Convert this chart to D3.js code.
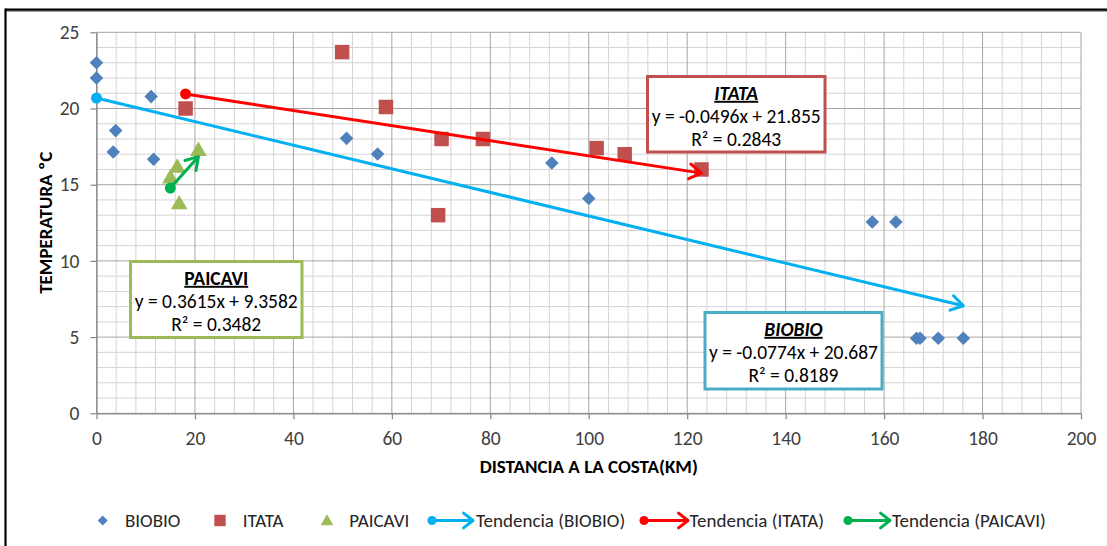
<!DOCTYPE html>
<html>
<head>
<meta charset="utf-8">
<script src="https://cdn.jsdelivr.net/npm/d3@7"></script>
<style>
  html, body { margin: 0; padding: 0; background: #ffffff; }
  svg { display: block; }
</style>
</head>
<body>
<svg id="chart" width="1107" height="546"></svg>
<script>
// Water temperature versus distance to the coast, three river basins
const biobioX = [0, 0, 3.4, 3.9, 11.1, 11.6, 50.8, 57.1, 92.5, 100, 157.6, 162.4, 166.6, 167.3, 171, 176.1];
const biobioY = [23, 22, 17.15, 18.55, 20.78, 16.67, 18.04, 17.01, 16.42, 14.1, 12.55, 12.55, 4.92, 4.92, 4.92, 4.92];

const itataX = [18.1, 49.9, 58.8, 69.4, 70.1, 78.5, 101.6, 107.3, 122.9];
const itataY = [20, 23.7, 20.1, 13, 18, 18, 17.4, 17, 16];

const paicaviX = [15, 16.4, 16.8, 20.7];
const paicaviY = [15.4, 16.1, 13.7, 17.2];

// Linear trend fits: slope, intercept, R²
const seriesNames = ["BIOBIO", "ITATA", "PAICAVI"];
const trendSlopes = [-0.0774, -0.0496, 0.3615];
const trendIntercepts = [20.687, 21.855, 9.3582];
const trendR2 = [0.8189, 0.2843, 0.3482];

const xTicks = [0, 20, 40, 60, 80, 100, 120, 140, 160, 180, 200];
const yTicks = [0, 5, 10, 15, 20, 25];

const FONT = "Carlito, Calibri, Lato, 'Open Sans', sans-serif";
const markerColors = ["#4F81BD", "#C0504D", "#9BBB59"];
const trendColors = ["#00B0F0", "#FF0000", "#00B050"];
const boxColors = ["#4BACC6", "#C0504D", "#9BBB59"];

const svg = d3.select("#chart");

// Outer frame
svg.append("line").attr("x1", 5).attr("x2", 1107).attr("y1", 11.3).attr("y2", 11.3)
  .attr("stroke", "#a0a0a0").attr("stroke-width", 1.2);
svg.append("line").attr("x1", 5.5).attr("x2", 1107).attr("y1", 9.7).attr("y2", 9.7)
  .attr("stroke", "#000").attr("stroke-width", 2.2);
svg.append("line").attr("x1", 5.5).attr("x2", 5.5).attr("y1", 8.6).attr("y2", 546)
  .attr("stroke", "#000").attr("stroke-width", 2.2);

const x = d3.scaleLinear().domain([0, 200]).range([96.5, 1081]);
const y = d3.scaleLinear().domain([0, 25]).range([413.3, 32.3]);

// Gridlines: minor then major
const grid = svg.append("g");
const xMinor = d3.range(0, 201, 4).filter(v => v % 20 !== 0);
const yMinor = d3.range(0, 26, 1).filter(v => v % 5 !== 0);
grid.selectAll(".vx").data(xMinor).join("line")
  .attr("x1", d => x(d)).attr("x2", d => x(d)).attr("y1", y(25)).attr("y2", y(0))
  .attr("stroke", "#d4d4d4").attr("stroke-width", 1);
grid.selectAll(".hy").data(yMinor).join("line")
  .attr("x1", x(0)).attr("x2", x(200)).attr("y1", d => y(d)).attr("y2", d => y(d))
  .attr("stroke", "#d4d4d4").attr("stroke-width", 1);
grid.selectAll(".vX").data(xTicks).join("line")
  .attr("x1", d => x(d)).attr("x2", d => x(d)).attr("y1", y(25)).attr("y2", y(0))
  .attr("stroke", "#a6a6a6").attr("stroke-width", 1);
grid.selectAll(".hY").data(yTicks).join("line")
  .attr("x1", x(0)).attr("x2", x(200)).attr("y1", d => y(d)).attr("y2", d => y(d))
  .attr("stroke", "#a6a6a6").attr("stroke-width", 1);

// Axes
const xAxis = svg.append("g").attr("transform", `translate(0,${y(0)})`)
  .call(d3.axisBottom(x).tickValues(xTicks).tickSize(6).tickSizeOuter(0).tickPadding(12));
const yAxis = svg.append("g").attr("transform", `translate(${x(0)},0)`)
  .call(d3.axisLeft(y).tickValues(yTicks).tickSize(6).tickSizeOuter(0).tickPadding(11));
[xAxis, yAxis].forEach(a => {
  a.select(".domain").attr("stroke", "#868686").attr("stroke-width", 1.2);
  a.selectAll(".tick line").attr("stroke", "#868686").attr("stroke-width", 1.2);
  a.selectAll("text").attr("font-family", FONT).attr("font-size", 19.5).attr("fill", "#404040");
});

// Axis titles
svg.append("text")
  .attr("x", (x(0) + x(200)) / 2).attr("y", 466).attr("dy", "0.35em")
  .attr("text-anchor", "middle").attr("font-family", FONT).attr("font-weight", "bold")
  .attr("font-size", 19).attr("fill", "#000")
  .text("DISTANCIA A LA COSTA(KM)");
svg.append("text")
  .attr("transform", `translate(45,${(y(0) + y(25)) / 2}) rotate(-90)`)
  .attr("dy", "0.35em").attr("text-anchor", "middle")
  .attr("font-family", FONT).attr("font-weight", "bold").attr("font-size", 19).attr("fill", "#000")
  .text("TEMPERATURA ºC");

// Marker shapes
const diamond = d3.symbol().type(d3.symbolSquare).size(92);
const square = d3.symbol().type(d3.symbolSquare).size(210);
const triangle = d3.symbol().type(d3.symbolTriangle).size(120);

const pts = svg.append("g");
pts.selectAll(".bio").data(biobioX.map((v, i) => [v, biobioY[i]])).join("path")
  .attr("d", diamond)
  .attr("transform", d => `translate(${x(d[0])},${y(d[1])}) rotate(45)`)
  .attr("fill", markerColors[0]);
pts.selectAll(".ita").data(itataX.map((v, i) => [v, itataY[i]])).join("path")
  .attr("d", square)
  .attr("transform", d => `translate(${x(d[0])},${y(d[1])})`)
  .attr("fill", markerColors[1]);
pts.selectAll(".pai").data(paicaviX.map((v, i) => [v, paicaviY[i]])).join("path")
  .attr("d", triangle)
  .attr("transform", d => `translate(${x(d[0])},${y(d[1])})`)
  .attr("fill", markerColors[2]);

// Arrow with round start marker and open chevron head
function drawArrow(g, x1, y1, x2, y2, color, opt) {
  const o = Object.assign({ w: 3, r: 5.5, arm: 14, ang: 32 }, opt || {});
  g.append("line").attr("x1", x1).attr("y1", y1).attr("x2", x2).attr("y2", y2)
    .attr("stroke", color).attr("stroke-width", o.w);
  const a = Math.atan2(y2 - y1, x2 - x1);
  const t = o.ang * Math.PI / 180;
  const p1 = [x2 - o.arm * Math.cos(a - t), y2 - o.arm * Math.sin(a - t)];
  const p2 = [x2 - o.arm * Math.cos(a + t), y2 - o.arm * Math.sin(a + t)];
  g.append("path").attr("d", `M${p1[0]},${p1[1]}L${x2},${y2}L${p2[0]},${p2[1]}`)
    .attr("fill", "none").attr("stroke", color).attr("stroke-width", o.w)
    .attr("stroke-linecap", "round").attr("stroke-linejoin", "round");
  g.append("circle").attr("cx", x1).attr("cy", y1).attr("r", o.r).attr("fill", color);
}

// Trend lines across each series' x range
const xsAll = [biobioX, itataX, paicaviX];
const trends = svg.append("g");
xsAll.forEach((xs, i) => {
  const [lo, hi] = d3.extent(xs);
  const f = v => trendSlopes[i] * v + trendIntercepts[i];
  drawArrow(trends, x(lo), y(f(lo)), x(hi), y(f(hi)), trendColors[i]);
});

// Equation boxes
const boxes = [
  { s: 0, x0: 705, y0: 312.5, x1: 882, y1: 389, italic: true },
  { s: 1, x0: 647.5, y0: 76.5, x1: 825, y1: 152, italic: true },
  { s: 2, x0: 130.5, y0: 261.5, x1: 302, y1: 337.5, italic: false }
];
const fmtEq = i => {
  const m = trendSlopes[i], b = trendIntercepts[i];
  return `y = ${m}x + ${b}`;
};
boxes.forEach(bx => {
  const g = svg.append("g");
  g.append("rect").attr("x", bx.x0).attr("y", bx.y0)
    .attr("width", bx.x1 - bx.x0).attr("height", bx.y1 - bx.y0)
    .attr("fill", "#fff").attr("stroke", boxColors[bx.s]).attr("stroke-width", 3);
  const cx = (bx.x0 + bx.x1) / 2;
  const top = bx.y0;
  g.append("text").attr("x", cx).attr("y", top + 16.5).attr("dy", "0.35em")
    .attr("text-anchor", "middle").attr("font-family", FONT).attr("font-size", 19.5)
    .attr("font-weight", "bold").attr("font-style", bx.italic ? "italic" : "normal")
    .attr("text-decoration", "underline").attr("fill", "#000")
    .text(seriesNames[bx.s]);
  g.append("text").attr("x", cx).attr("y", top + 39.5).attr("dy", "0.35em")
    .attr("text-anchor", "middle").attr("font-family", FONT).attr("font-size", 19.5)
    .attr("fill", "#000").text(fmtEq(bx.s));
  g.append("text").attr("x", cx).attr("y", top + 63).attr("dy", "0.35em")
    .attr("text-anchor", "middle").attr("font-family", FONT).attr("font-size", 19.5)
    .attr("fill", "#000").text(`R² = ${trendR2[bx.s]}`);
});

// Legend
const legY = 520.5;
const leg = svg.append("g");
const legText = (tx, label) => leg.append("text").attr("x", tx).attr("y", legY).attr("dy", "0.35em")
  .attr("font-family", FONT).attr("font-size", 19).attr("fill", "#262626").text(label);

leg.append("path").attr("d", d3.symbol().type(d3.symbolSquare).size(50))
  .attr("transform", `translate(102.7,${legY}) rotate(45)`).attr("fill", markerColors[0]);
legText(125, seriesNames[0]);
leg.append("path").attr("d", d3.symbol().type(d3.symbolSquare).size(130))
  .attr("transform", `translate(220,${legY})`).attr("fill", markerColors[1]);
legText(242.7, seriesNames[1]);
leg.append("path").attr("d", d3.symbol().type(d3.symbolTriangle).size(70))
  .attr("transform", `translate(327,${legY + 1})`).attr("fill", markerColors[2]);
legText(349.3, seriesNames[2]);

const legArrows = [[432, 473, 476], [644, 688, 689.5], [848, 890, 892]];
legArrows.forEach((la, i) => {
  drawArrow(leg, la[0], legY, la[1], legY, trendColors[i], { w: 3, r: 4.5, arm: 12, ang: 38 });
  legText(la[2], `Tendencia (${seriesNames[i]})`);
});
</script>
</body>
</html>
